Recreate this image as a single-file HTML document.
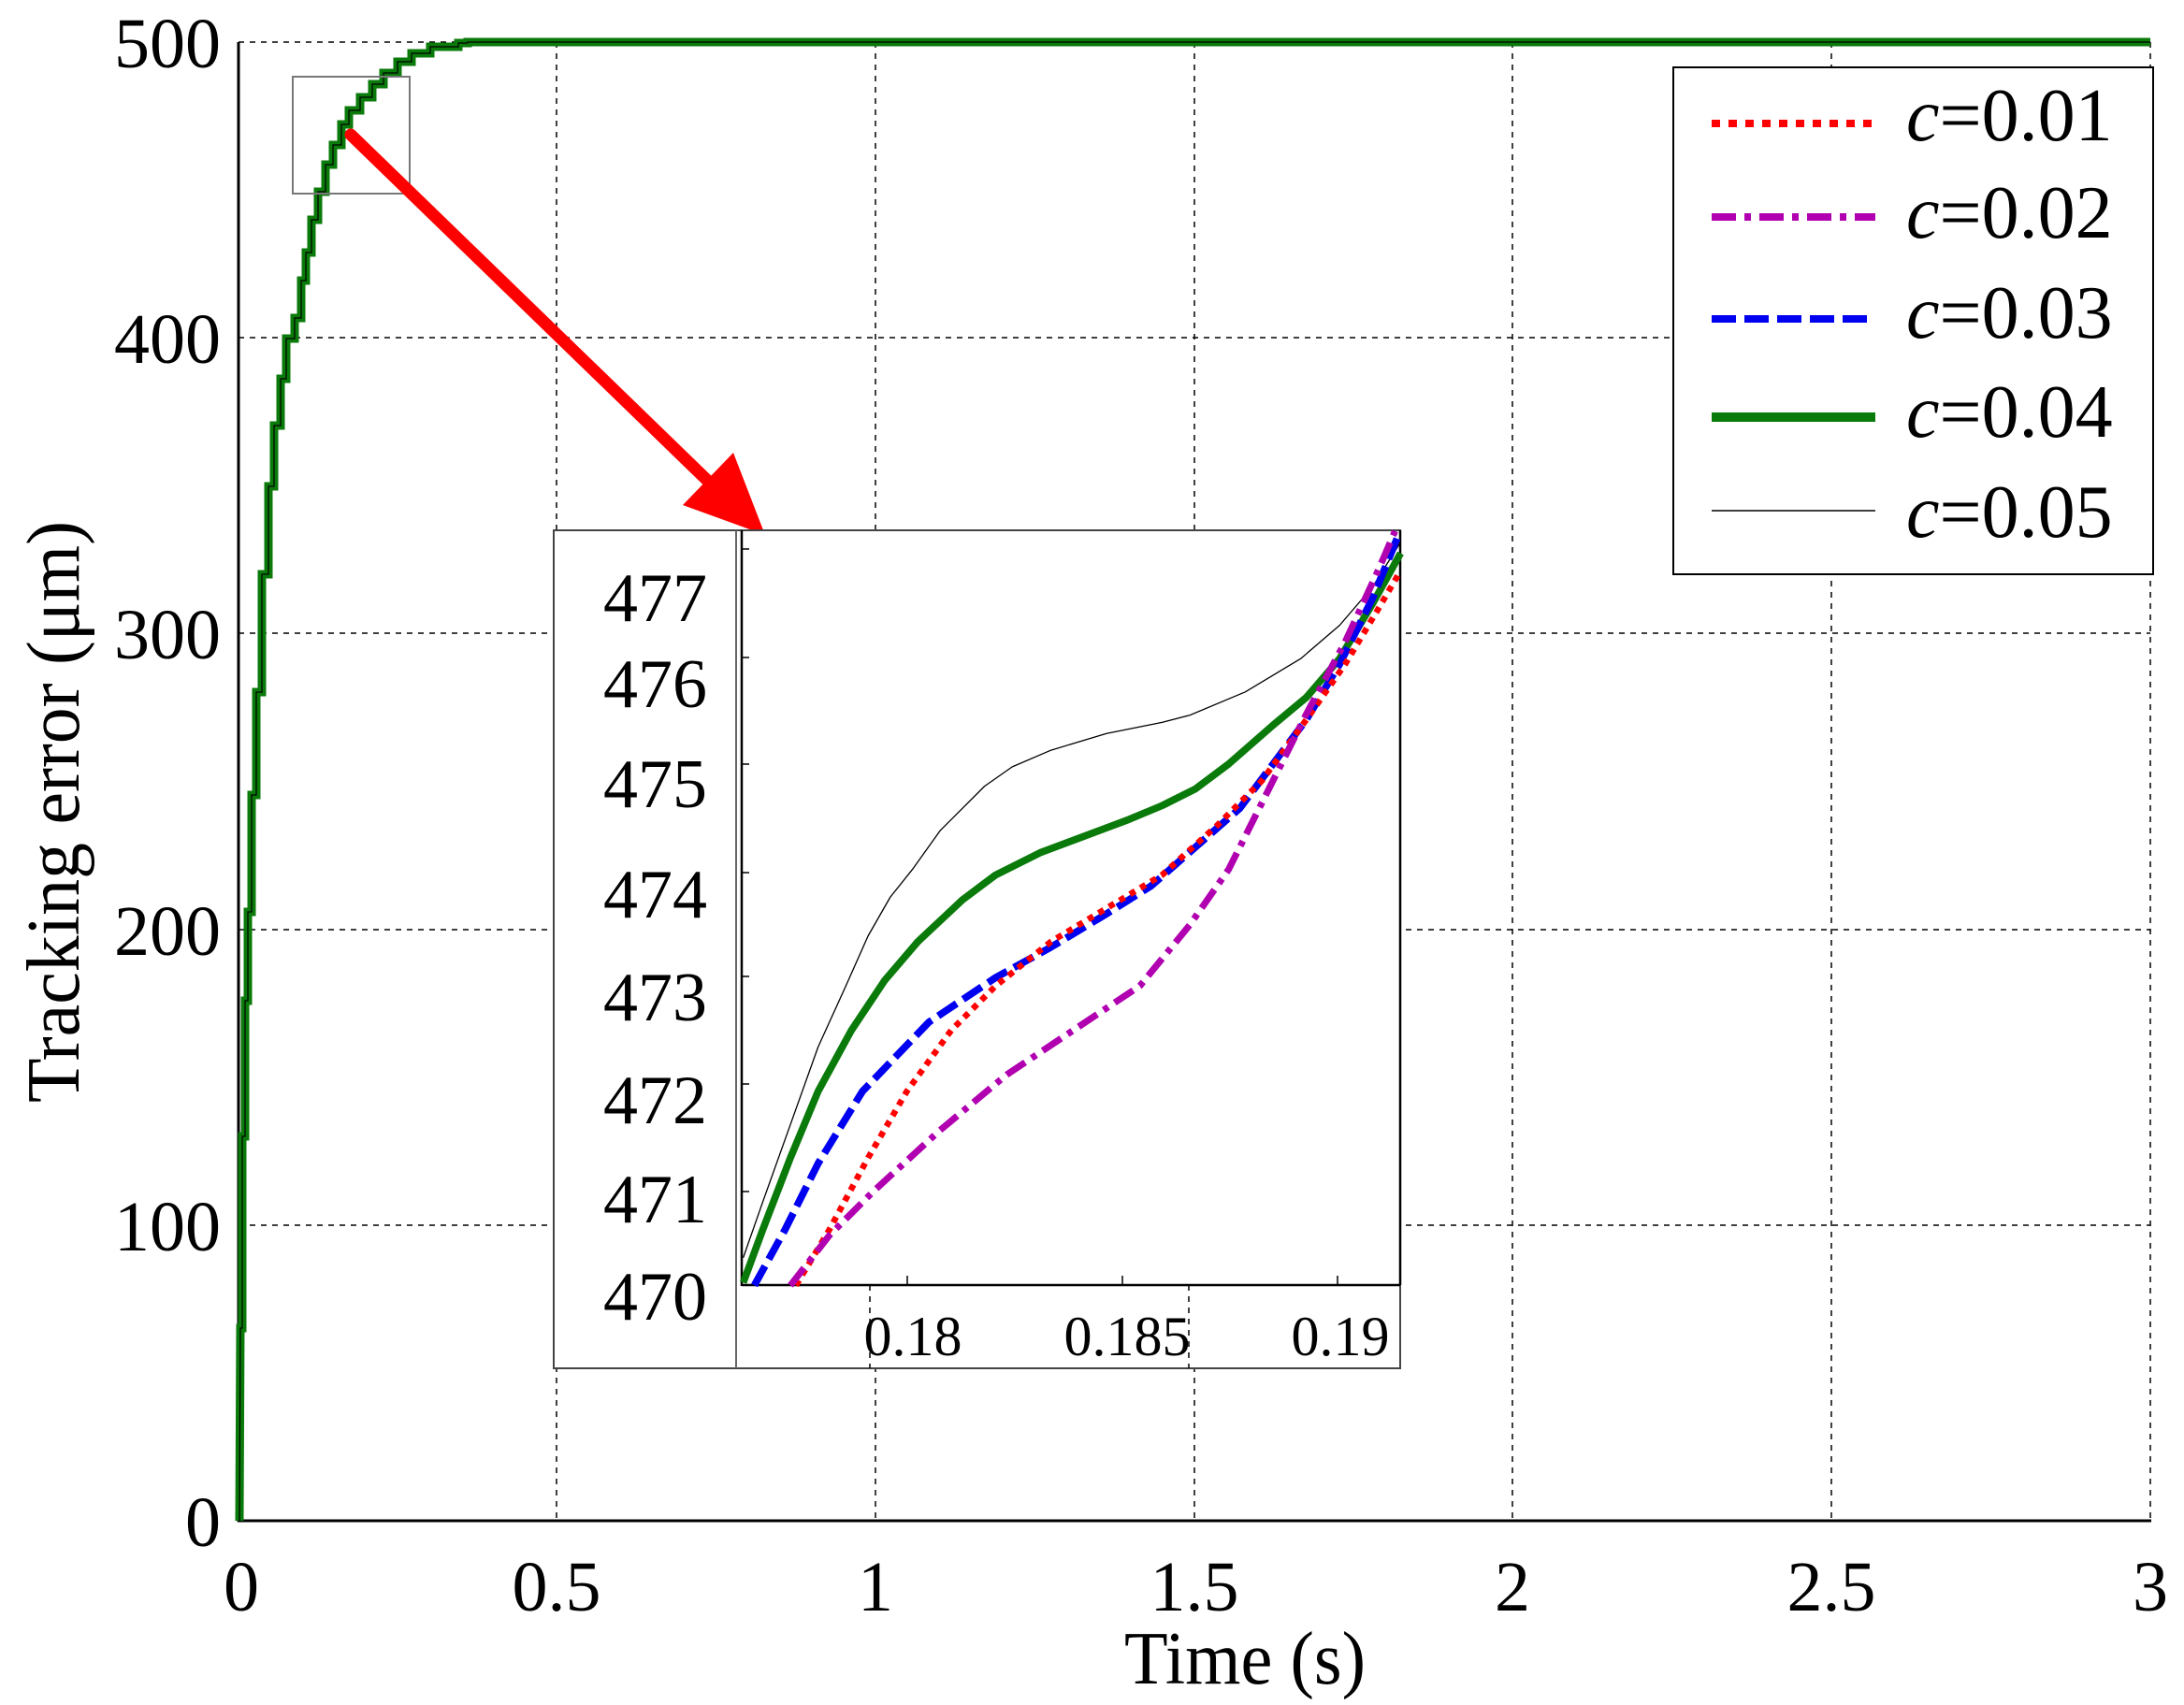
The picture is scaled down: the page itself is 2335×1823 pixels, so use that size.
<!DOCTYPE html>
<html><head><meta charset="utf-8"><style>html,body{margin:0;padding:0;background:#fff}svg{display:block}</style></head>
<body>
<svg width="2335" height="1823" viewBox="0 0 2335 1823" xmlns="http://www.w3.org/2000/svg" font-family="Liberation Serif, serif">
<rect width="2335" height="1823" fill="#fff"/>
<!-- grid -->
<g stroke="#000" stroke-width="1.5" stroke-dasharray="6,6" fill="none">
<line x1="595" y1="45" x2="595" y2="1626"/>
<line x1="936" y1="45" x2="936" y2="1626"/>
<line x1="1277" y1="45" x2="1277" y2="1626"/>
<line x1="1617" y1="45" x2="1617" y2="1626"/>
<line x1="1958" y1="45" x2="1958" y2="1626"/>
<line x1="2299" y1="45" x2="2299" y2="1626"/>
<line x1="255" y1="45" x2="2299" y2="45"/>
<line x1="255" y1="361" x2="2299" y2="361"/>
<line x1="255" y1="677" x2="2299" y2="677"/>
<line x1="255" y1="994" x2="2299" y2="994"/>
<line x1="255" y1="1310" x2="2299" y2="1310"/>
</g>
<!-- axes -->
<g stroke="#000" stroke-width="3" fill="none">
<line x1="255" y1="45" x2="255" y2="1627"/>
<line x1="254" y1="1626" x2="2300" y2="1626"/>
</g>
<!-- y tick labels -->
<g font-size="76" text-anchor="end" fill="#000">
<text x="236" y="72">500</text>
<text x="236" y="388">400</text>
<text x="236" y="704">300</text>
<text x="236" y="1021">200</text>
<text x="236" y="1337">100</text>
<text x="236" y="1653">0</text>
</g>
<g font-size="76" text-anchor="middle" fill="#000">
<text x="258" y="1722">0</text>
<text x="595" y="1722">0.5</text>
<text x="936" y="1722">1</text>
<text x="1277" y="1722">1.5</text>
<text x="1617" y="1722">2</text>
<text x="1958" y="1722">2.5</text>
<text x="2299" y="1722">3</text>
</g>
<text x="1331" y="1800" font-size="80" text-anchor="middle" textLength="258" lengthAdjust="spacingAndGlyphs">Time (s)</text>
<text transform="translate(84,868) rotate(-90)" font-size="80" text-anchor="middle" textLength="622" lengthAdjust="spacingAndGlyphs">Tracking error (μm)</text>
<!-- main curve -->
<polyline fill="none" stroke="#0a7a0a" stroke-width="9" stroke-linejoin="miter" points="256,1626 257,1420 259,1420 259,1215 262,1215 262,1070 265,1070 265,975 269,975 269,850 274,850 274,740 280,740 280,614 287,614 287,520 293,520 293,455 300,455 300,405 306,405 306,362 315,362 315,340 322,340 322,300 327,300 327,270 333,270 333,235 340,235 340,205 348,205 348,176 356,176 356,155 365,155 365,133 373,133 373,118 385,118 385,104 398,104 398,90 410,90 410,78 425,78 425,66 440,66 440,57 460,57 460,50 490,50 490,46 500,46 500,45 2299,45"/>
<polyline fill="none" stroke="#000" stroke-width="1.2" points="256,1626 257,1420 259,1420 259,1215 262,1215 262,1070 265,1070 265,975 269,975 269,850 274,850 274,740 280,740 280,614 287,614 287,520 293,520 293,455 300,455 300,405 306,405 306,362 315,362 315,340 322,340 322,300 327,300 327,270 333,270 333,235 340,235 340,205 348,205 348,176 356,176 356,155 365,155 365,133 373,133 373,118 385,118 385,104 398,104 398,90 410,90 410,78 425,78 425,66 440,66 440,57 460,57 460,50 490,50 490,46 500,46 500,45 2299,45"/>
<!-- zoom box -->
<rect x="313" y="82" width="125" height="125" fill="none" stroke="#777" stroke-width="2"/>
<!-- arrow -->
<line x1="375" y1="144" x2="770" y2="527" stroke="#f00" stroke-width="13" stroke-linecap="round"/>
<polygon points="818,572 730,540 784,484" fill="#f00"/>
<!-- legend -->
<rect x="1789" y="72" width="513" height="542" fill="#fff" stroke="#000" stroke-width="2"/>
<g stroke-width="8">
<line x1="1830" y1="132" x2="2005" y2="132" stroke="#f00" stroke-dasharray="9,9"/>
<line x1="1830" y1="232" x2="2005" y2="232" stroke="#b000b0" stroke-dasharray="26,9,7,9"/>
<line x1="1830" y1="341" x2="2005" y2="341" stroke="#0000f0" stroke-dasharray="26,9"/>
<line x1="1830" y1="446" x2="2005" y2="446" stroke="#0a7a0a" stroke-width="10"/>
<line x1="1830" y1="546" x2="2005" y2="546" stroke="#000" stroke-width="1.5"/>
</g>
<g font-size="80" fill="#000">
<text x="2038" y="150"><tspan font-style="italic">c</tspan>=0.01</text>
<text x="2038" y="254"><tspan font-style="italic">c</tspan>=0.02</text>
<text x="2038" y="361"><tspan font-style="italic">c</tspan>=0.03</text>
<text x="2038" y="467"><tspan font-style="italic">c</tspan>=0.04</text>
<text x="2038" y="574"><tspan font-style="italic">c</tspan>=0.05</text>
</g>
<!-- inset -->
<rect x="592" y="567" width="905" height="896" fill="#fff" stroke="#444" stroke-width="2"/>
<line x1="787" y1="567" x2="787" y2="1463" stroke="#666" stroke-width="2"/>
<g stroke="#000" stroke-width="2.5" fill="none">
<line x1="793" y1="567" x2="793" y2="1375"/>
<line x1="793" y1="1374" x2="1497" y2="1374"/>
<line x1="1497" y1="567" x2="1497" y2="1374"/>
</g>
<g stroke="#000" stroke-width="1.5">
<line x1="793" y1="587" x2="801" y2="587"/><line x1="793" y1="703" x2="801" y2="703"/>
<line x1="793" y1="817" x2="801" y2="817"/><line x1="793" y1="933" x2="801" y2="933"/>
<line x1="793" y1="1044" x2="801" y2="1044"/><line x1="793" y1="1159" x2="801" y2="1159"/>
<line x1="793" y1="1274" x2="801" y2="1274"/>
<line x1="970" y1="1374" x2="970" y2="1364"/><line x1="1200" y1="1374" x2="1200" y2="1364"/><line x1="1430" y1="1374" x2="1430" y2="1364"/>
</g>
<g stroke="#000" stroke-width="1.5" stroke-dasharray="6,6">
<line x1="930" y1="1374" x2="930" y2="1463"/><line x1="1271" y1="1374" x2="1271" y2="1463"/>
</g>
<g font-size="74" text-anchor="end" fill="#000">
<text x="756" y="664">477</text>
<text x="756" y="756">476</text>
<text x="756" y="863">475</text>
<text x="756" y="981">474</text>
<text x="756" y="1091">473</text>
<text x="756" y="1201">472</text>
<text x="756" y="1307">471</text>
<text x="756" y="1411">470</text>
</g>
<g font-size="60" text-anchor="middle" fill="#000">
<text x="976" y="1449">0.18</text>
<text x="1205" y="1449">0.185</text>
<text x="1433" y="1449">0.19</text>
</g>
<g transform="translate(590 550) scale(0.5931)" fill="none" stroke-linejoin="round">
<polyline stroke="#000" stroke-width="2.2" points="345,1340 380,1240 430,1100 480,960 530,850 570,760 610,690 650,640 700,570 780,490 830,455 900,425 1000,395 1100,375 1150,362 1250,320 1350,260 1420,200 1480,130 1530,50"/>
<polyline stroke="#0a7a0a" stroke-width="13" points="345,1385 380,1290 430,1160 480,1040 540,930 600,840 660,770 740,695 800,650 880,610 960,580 1040,550 1100,525 1160,495 1220,450 1300,380 1360,330 1420,260 1480,160 1530,70"/>
<polyline stroke="#0000f0" stroke-width="13" stroke-dasharray="40,14" points="365,1390 420,1290 480,1170 560,1040 680,915 800,835 900,780 1000,720 1080,670 1160,600 1240,530 1300,450 1360,370 1420,270 1480,150 1525,40"/>
<polyline stroke="#f00" stroke-width="11" stroke-dasharray="11,11" points="440,1390 500,1290 570,1160 640,1040 720,930 800,850 900,770 1000,710 1100,650 1200,560 1280,480 1360,370 1430,270 1490,170 1525,110"/>
<polyline stroke="#b000b0" stroke-width="12" stroke-dasharray="40,14,10,14" points="430,1390 500,1300 580,1220 700,1110 820,1010 940,930 1060,850 1150,740 1220,640 1290,500 1360,360 1430,230 1490,100 1520,30"/>
</g>
</svg>
</body></html>
